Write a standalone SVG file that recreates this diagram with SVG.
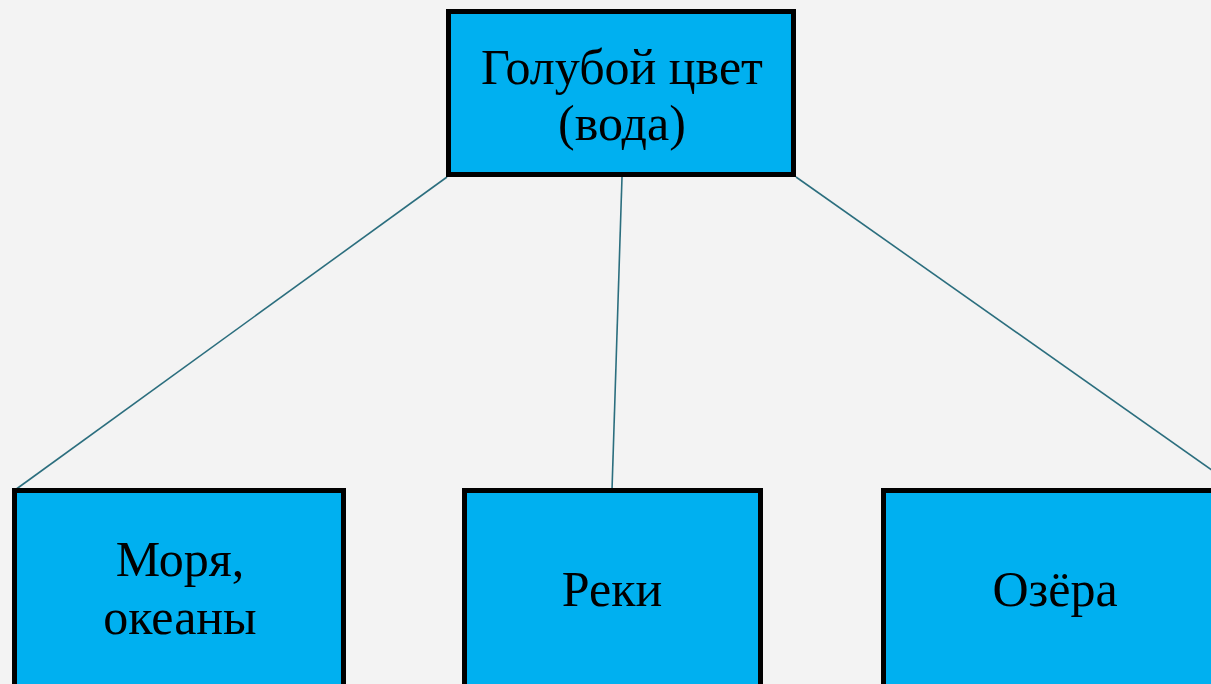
<svg xmlns="http://www.w3.org/2000/svg" width="1211" height="684" viewBox="0 0 1211 684">
<style>
.box{fill:#00b0f0;stroke:#000;stroke-width:5}
.lbl{font-family:"Liberation Serif","DejaVu Serif",serif;font-size:50px;fill:#000;text-anchor:middle}
.conn{stroke:#2b6e7e;stroke-width:1.6;fill:none}
</style>
<rect width="1211" height="684" fill="#f3f3f3"/>
<g id="connectors">
<line class="conn" x1="447" y1="177" x2="15" y2="490"/>
<line class="conn" x1="622" y1="177" x2="612" y2="490"/>
<line class="conn" x1="796" y1="177" x2="1240" y2="490"/>
</g>
<g id="node-top">
<rect class="box" x="448.5" y="11.5" width="345" height="163"/>
<text class="lbl" x="622" y="84">Голубой цвет</text>
<text class="lbl" x="622" y="140">(вода)</text>
</g>
<g id="node-seas">
<rect class="box" x="14.5" y="490.5" width="329" height="200"/>
<text class="lbl" x="180" y="576">Моря,</text>
<text class="lbl" x="180" y="634">океаны</text>
</g>
<g id="node-rivers">
<rect class="box" x="464.5" y="490.5" width="296" height="200"/>
<text class="lbl" x="612" y="606">Реки</text>
</g>
<g id="node-lakes">
<rect class="box" x="883.5" y="490.5" width="340" height="200"/>
<text class="lbl" x="1055" y="606">Озёра</text>
</g>
</svg>
